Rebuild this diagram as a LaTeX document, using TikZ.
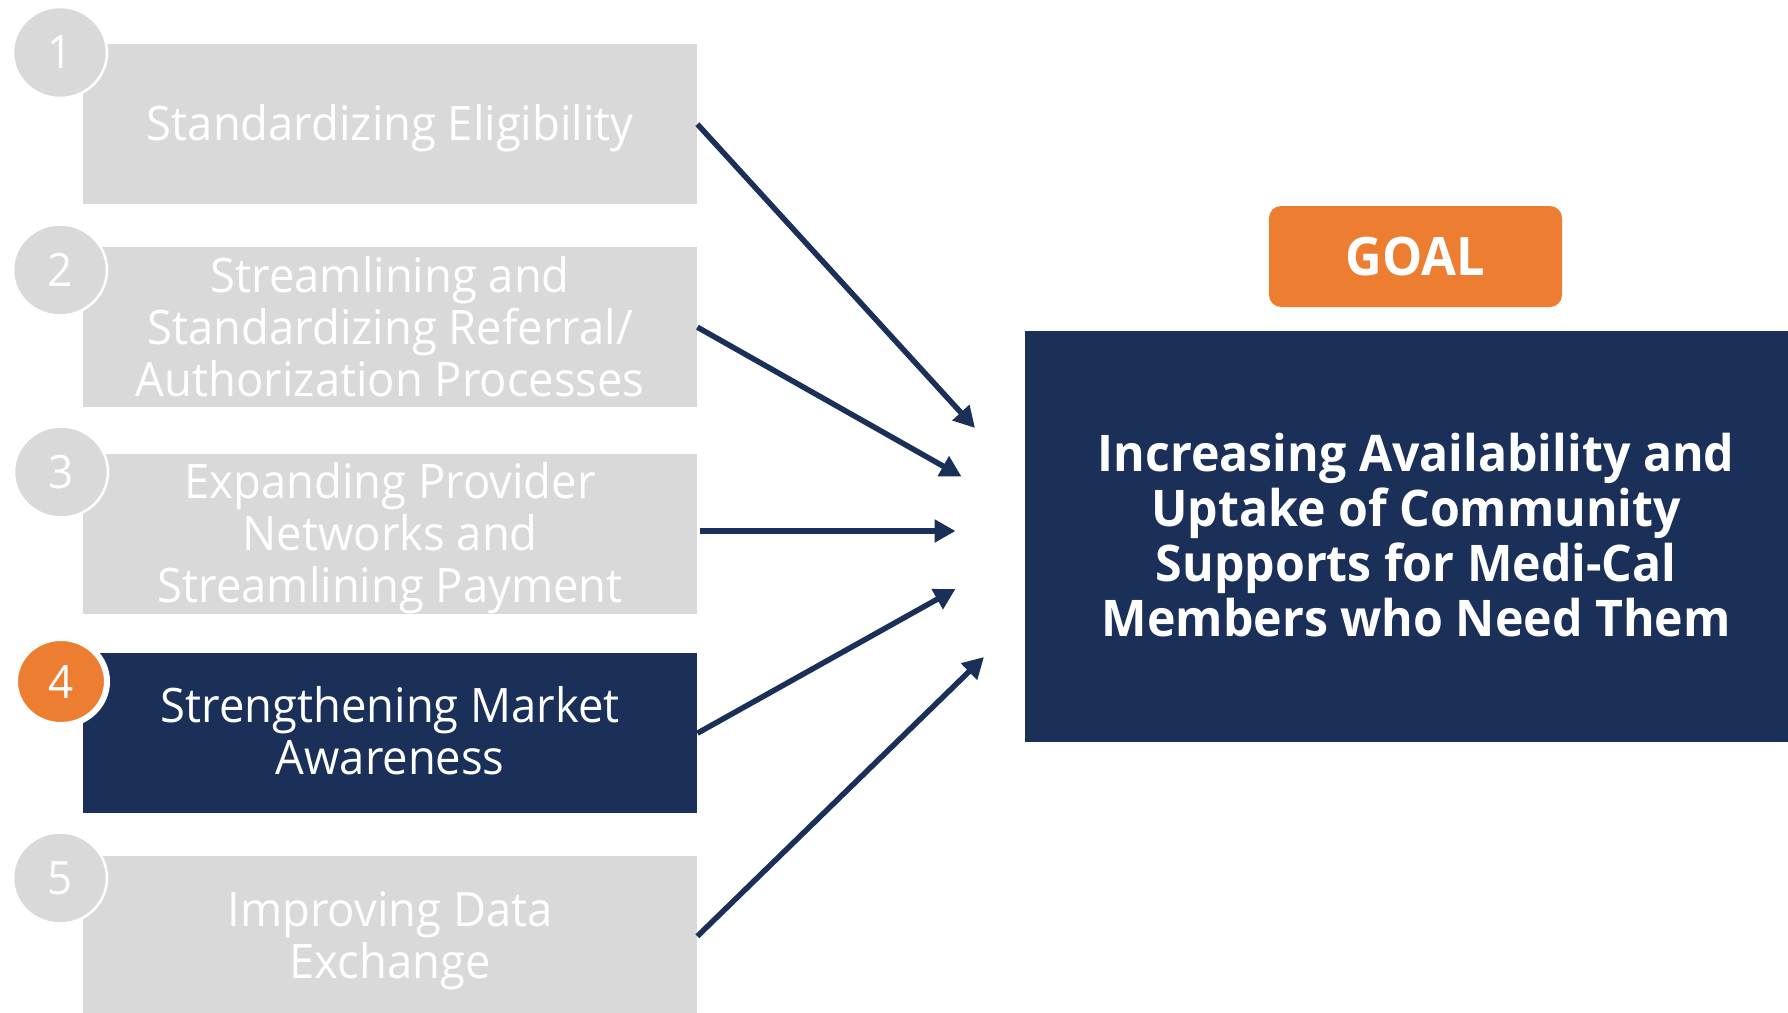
\documentclass[tikz,border=0pt]{standalone}
\usepackage{fontspec}
\setmainfont{Open Sans}[FakeStretch=0.955]
\usetikzlibrary{arrows.meta,shapes.geometric}
\definecolor{boxgrey}{HTML}{D9D9D9}
\definecolor{navy}{HTML}{1B3059}
\definecolor{orng}{HTML}{ED7D31}
\begin{document}
\begin{tikzpicture}[x=1pt,y=-1pt,
  stepbox/.style={anchor=north west, minimum width=614pt, minimum height=160pt, inner sep=0pt},
  greybox/.style={stepbox, fill=boxgrey},
  navystep/.style={stepbox, fill=navy},
  steptext/.style={inner sep=0pt, align=center, text=white, font=\fontsize{47.5}{52}\selectfont},
  numcirc/.style={ellipse, inner sep=0pt, minimum width=94pt, minimum height=91pt, fill=boxgrey, draw=white, line width=2.5pt, text=white, font=\fontsize{46}{50}\selectfont},
  activecirc/.style={numcirc, fill=orng, minimum width=92pt, minimum height=87pt, line width=6pt},
  arr/.style={draw=navy, line width=5.5pt, -{Triangle[length=21pt,width=22pt]}}
]
\useasboundingbox (0,0) rectangle (1788,1012);

% step boxes
\node[greybox] (b1) at (83,44) {};
\node[greybox] (b2) at (83,247) {};
\node[greybox] (b3) at (83,454) {};
\node[navystep] (b4) at (83,653) {};
\node[greybox] (b5) at (83,856) {};

\node[steptext] (t1) at ([yshift=-3.5pt]b1.center) {Standardizing Eligibility};
\node[steptext] (t2) at ([yshift=1pt]b2.center) {Streamlining and\\Standardizing Referral/\\Authorization Processes};
\node[steptext] (t3) at ([yshift=-3.5pt]b3.center) {Expanding Provider\\Networks and\\Streamlining Payment};
\node[steptext] (t4) at ([yshift=2.5pt]b4.center) {Strengthening Market\\Awareness};
\node[steptext] (t5) at ([yshift=-4.5pt]b5.center) {Improving Data\\Exchange};

% number circles
\node[numcirc] (c1) at (60,52.5) {1};
\node[numcirc] (c2) at (60,270) {2};
\node[numcirc] (c3) at (61,472) {3};
\node[activecirc] (c4) at (61,681.5) {4};
\node[numcirc] (c5) at (60,878) {5};

% goal
\node[fill=orng, rounded corners=12pt, minimum width=293pt, minimum height=101pt, inner sep=0pt, text=white, font=\bfseries\fontsize{53}{55}\selectfont] (goal) at (1415.5,256.5) {GOAL};
\node[fill=navy, anchor=north west, minimum width=782pt, minimum height=411pt, inner sep=0pt] (target) at (1025,331) {};
\node[inner sep=0pt, align=center, text=white, font=\bfseries\fontsize{50.5}{55}\selectfont] (ttext) at ([yshift=2pt]target.center) {Increasing Availability and\\Uptake of Community\\Supports for Medi-Cal\\Members who Need Them};

% arrow ends
\coordinate (e1) at (975,428);
\coordinate (e2) at (961.5,476.5);
\coordinate (e3) at (955.5,531);
\coordinate (e4) at (955.5,589);
\coordinate (e5) at (984,657);

\draw[arr] (b1.east) -- (e1);
\draw[arr] (b2.east) -- (e2);
\draw[arr] ([xshift=3pt]b3.east |- e3) -- (e3);
\draw[arr] (b4.east) -- (e4);
\draw[arr] (b5.east) -- (e5);
\end{tikzpicture}
\end{document}
